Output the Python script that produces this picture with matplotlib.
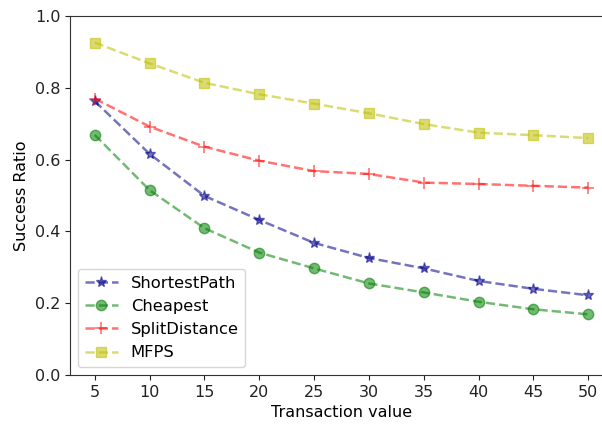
import matplotlib
matplotlib.use("Agg")
import matplotlib.pyplot as plt

# transaction values on the x axis
tx_values = [5, 10, 15, 20, 25, 30, 35, 40, 45, 50]

# success ratios
shortest_path = [0.763, 0.616, 0.499, 0.432, 0.368, 0.326, 0.297, 0.262, 0.240, 0.222]
cheapest = [0.669, 0.515, 0.409, 0.341, 0.297, 0.255, 0.230, 0.204, 0.183, 0.169]
split_distance = [0.770, 0.692, 0.636, 0.597, 0.568, 0.560, 0.536, 0.532, 0.527, 0.522]
mfps = [0.926, 0.868, 0.814, 0.782, 0.756, 0.729, 0.699, 0.675, 0.668, 0.660]

y_ticks = [0.0, 0.2, 0.4, 0.6, 0.8, 1.0]


def main() -> None:
    plt.rcParams["font.family"] = "DejaVu Sans"
    fig = plt.figure(figsize=(6.02, 4.25), dpi=100)
    ax = fig.add_axes([70 / 602, 50 / 425, 543 / 602, 359 / 425])

    style = dict(linestyle="--", linewidth=1.8, alpha=0.55)
    ax.plot(tx_values, shortest_path, marker="*", markersize=8, color="darkblue",
            label="ShortestPath", **style)
    ax.plot(tx_values, cheapest, marker="o", markersize=7.5, color="g",
            label="Cheapest", **style)
    ax.plot(tx_values, split_distance, marker="+", markersize=8, color="r",
            markeredgewidth=1.2, label="SplitDistance", **style)
    ax.plot(tx_values, mfps, marker="s", markersize=7.5, color="y",
            label="MFPS", **style)

    ax.set_xticks(tx_values)
    ax.set_yticks(y_ticks)
    ax.set_ylim(0.0, 1.0)
    ax.tick_params(labelsize=11.5, colors="#222222")
    for spine in ax.spines.values():
        spine.set_color("#333333")
    ax.set_xlabel("Transaction value", fontsize=11.5)
    ax.set_ylabel("Success Ratio", fontsize=11.5)

    ax.legend(loc="lower left", fontsize=11.8)

    fig.savefig("out.png", dpi=100)
    plt.close(fig)


if __name__ == "__main__":
    main()
